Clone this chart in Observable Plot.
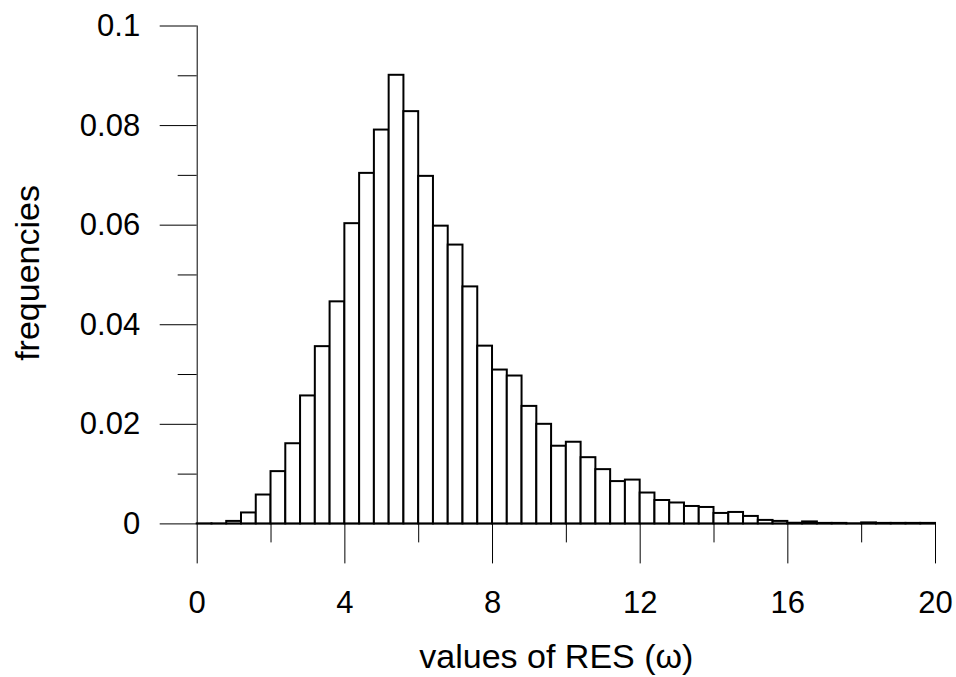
<!DOCTYPE html>
<html>
<head>
<meta charset="utf-8">
<script src="https://cdn.jsdelivr.net/npm/d3@7"></script>
<script src="https://cdn.jsdelivr.net/npm/@observablehq/plot@0.6"></script>
<style>
  html, body { margin: 0; padding: 0; background: white; }
</style>
</head>
<body>
<div id="chart"></div>
<script>
// Histogram bin edges (width 0.4, 0 .. 20)
const binEdges = [0, 0.4, 0.8, 1.2, 1.6, 2, 2.4, 2.8, 3.2, 3.6, 4, 4.4, 4.8, 5.2, 5.6, 6, 6.4, 6.8, 7.2, 7.6,
  8, 8.4, 8.8, 9.2, 9.6, 10, 10.4, 10.8, 11.2, 11.6, 12, 12.4, 12.8, 13.2, 13.6, 14, 14.4, 14.8, 15.2, 15.6,
  16, 16.4, 16.8, 17.2, 17.6, 18, 18.4, 18.8, 19.2, 19.6, 20];

// Frequencies
const frequencies = [0.00001, 0.00001, 0.0005, 0.0022, 0.0058, 0.0105, 0.0161, 0.0257, 0.0356, 0.0446,
  0.0603, 0.0704, 0.0791, 0.0901, 0.0828, 0.0698, 0.0598, 0.0560, 0.0476, 0.0357,
  0.0309, 0.0297, 0.0236, 0.0200, 0.0156, 0.0164, 0.0133, 0.0109, 0.0085, 0.0088,
  0.0062, 0.0047, 0.0042, 0.0035, 0.0033, 0.0021, 0.0023, 0.0015, 0.0007, 0.0005,
  0.00013, 0.0004, 0.0001, 0.0001, 0.00003, 0.0002, 0.0001, 0.0001, 0.0001, 0.0001];

const xTicks = [0, 4, 8, 12, 16, 20];
const xMinorTicks = [2, 6, 10, 14, 18];
const yTicks = [0, 0.02, 0.04, 0.06, 0.08, 0.1];
const yTickLabels = ["0", "0.02", "0.04", "0.06", "0.08", "0.1"];
const yMinorTicks = [0.01, 0.03, 0.05, 0.07, 0.09];
const xTitle = "values of RES (\u03C9)";
const yTitle = "frequencies";

const bins = frequencies.map((f, i) => ({x1: binEdges[i], x2: binEdges[i + 1], y: f}));

const FONT = 31;
const TITLE_FONT = 34;

const chart = Plot.plot({
  width: 956,
  height: 677,
  marginLeft: 196.7,
  marginRight: 21,
  marginTop: 25.5,
  marginBottom: 153.6,
  x: {domain: [0, 20]},
  y: {domain: [0, 0.1]},
  style: {fontFamily: "'Liberation Sans', Arial, sans-serif", fontSize: FONT + "px", background: "white", color: "black"},
  marks: [
    // axes lines
    Plot.ruleX([0], {y1: 0, y2: 0.1, stroke: "black", strokeWidth: 1}),
    Plot.ruleY([0], {stroke: "black", strokeWidth: 1}),
    // x axis
    Plot.axisX(xTicks, {tickSize: 40, tickPadding: 27, fontSize: FONT, stroke: "black", label: null, tickFormat: d => String(d)}),
    Plot.axisX(xMinorTicks, {tickSize: 19, fontSize: FONT, stroke: "black", label: null, tickFormat: () => ""}),
    // y axis
    Plot.axisY(yTicks, {tickSize: 37, tickPadding: 20, fontSize: FONT, stroke: "black", label: null,
      tickFormat: d => yTickLabels[yTicks.indexOf(d)]}),
    Plot.axisY(yMinorTicks, {tickSize: 19, fontSize: FONT, stroke: "black", label: null, tickFormat: () => ""}),
    // histogram bars
    Plot.rectY(bins, {x1: "x1", x2: "x2", y: "y", fill: "white", stroke: "black", strokeWidth: 2}),
    // titles
    Plot.text([xTitle], {text: d => d, frameAnchor: "bottom", dx: -10, dy: 133, fontSize: TITLE_FONT, lineAnchor: "middle", textAnchor: "middle", fill: "black"}),
    Plot.text([yTitle], {text: d => d, frameAnchor: "left", rotate: -90, dx: -168.7, dy: -2, fontSize: TITLE_FONT, lineAnchor: "middle", textAnchor: "middle", fill: "black"})
  ]
});

document.getElementById("chart").appendChild(chart);
</script>
</body>
</html>
